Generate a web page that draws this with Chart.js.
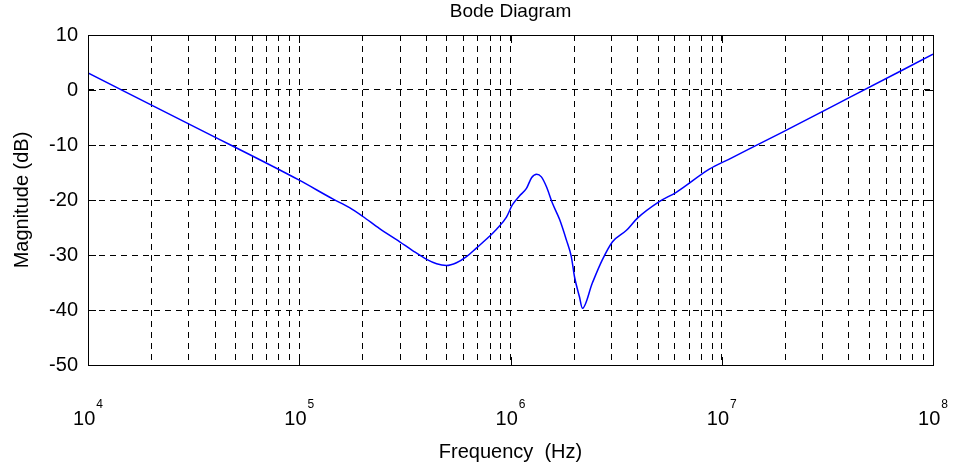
<!DOCTYPE html>
<html>
<head>
<meta charset="utf-8">
<script src="https://cdn.jsdelivr.net/npm/chart.js@4"></script>
<style>
  html, body { margin: 0; padding: 0; background: #fff; }
  #wrap { width: 957px; height: 475px; }
</style>
</head>
<body>
<div id="wrap"><canvas id="bodeChart" width="957" height="475"></canvas></div>
<script>
// values
const freqHz = [1.0e4, 3.39e4, 1.0e5, 1.44e5, 1.73e5, 2.0e5, 2.4e5, 2.99e5, 3.44e5, 4.01e5,
  4.47e5, 4.98e5, 5.55e5, 6.19e5, 6.91e5, 7.7e5, 8.59e5, 9.57e5, 1.02e6, 1.1e6,
  1.19e6, 1.26e6, 1.33e6, 1.4e6, 1.48e6, 1.58e6, 1.71e6, 1.84e6, 1.94e6, 2.01e6,
  2.12e6, 2.19e6, 2.44e6, 2.72e6, 3.04e6, 3.54e6, 3.99e6, 5.06e6, 6.09e6, 8.73e6,
  1.08e7, 1.93e7, 4.01e7, 1.0e8];
const magDb = [3.1, -7.2, -16.4, -19.8, -21.4, -23.0, -25.2, -27.6, -29.2, -30.8,
  -31.6, -31.9, -31.4, -30.3, -28.7, -27.1, -25.3, -23.1, -20.9, -19.3,
  -17.9, -15.9, -15.3, -15.8, -17.6, -20.6, -23.6, -27.3, -30.3, -34.0,
  -37.6, -39.7, -35.1, -30.9, -27.6, -25.5, -23.3, -20.3, -18.6, -14.4,
  -12.6, -7.7, -1.4, 6.5];

const decades = [1e4, 1e5, 1e6, 1e7, 1e8];
const decadeExp = ['4', '5', '6', '7', '8'];
const yTicks = [-50, -40, -30, -20, -10, 0, 10];

const fontFace = 'Arial, "Liberation Sans", sans-serif';

// x labels as 10 with a raised exponent
const expLabels = {
  id: 'expLabels',
  afterDraw(chart) {
    const ctx = chart.ctx;
    const xs = chart.scales.x;
    const base = chart.chartArea.bottom + 60;
    ctx.save();
    ctx.fillStyle = '#000';
    ctx.textBaseline = 'alphabetic';
    ctx.textAlign = 'left';
    decades.forEach((v, i) => {
      const px = xs.getPixelForValue(v);
      ctx.font = '20px ' + fontFace;
      const w1 = ctx.measureText('10').width;
      ctx.font = '12px ' + fontFace;
      const w2 = ctx.measureText(decadeExp[i]).width;
      const x0 = px - (w1 + 1 + w2) / 2;
      ctx.font = '20px ' + fontFace;
      ctx.fillText('10', x0, base);
      ctx.font = '12px ' + fontFace;
      ctx.fillText(decadeExp[i], x0 + w1 + 1, base - 17);
    });
    ctx.restore();
  }
};

// solid frame plus short inward ticks
const framePlugin = {
  id: 'frame',
  afterDraw(chart) {
    const ctx = chart.ctx;
    const a = chart.chartArea;
    const xs = chart.scales.x;
    const ys = chart.scales.y;
    ctx.save();
    ctx.strokeStyle = '#000';
    ctx.lineWidth = 1;
    ctx.setLineDash([]);
    ctx.strokeRect(Math.round(a.left) + 0.5, Math.round(a.top) + 0.5,
      Math.round(a.right - a.left), Math.round(a.bottom - a.top));
    ctx.beginPath();
    decades.forEach(v => {
      const px = Math.round(xs.getPixelForValue(v)) + 0.5;
      ctx.moveTo(px, a.bottom); ctx.lineTo(px, a.bottom - 8);
      ctx.moveTo(px, a.top); ctx.lineTo(px, a.top + 8);
    });
    yTicks.forEach(v => {
      const py = Math.round(ys.getPixelForValue(v)) + 0.5;
      ctx.moveTo(a.left, py); ctx.lineTo(a.left + 8, py);
      ctx.moveTo(a.right, py); ctx.lineTo(a.right - 8, py);
    });
    ctx.stroke();
    ctx.restore();
  }
};

const bodeChart = new Chart(document.getElementById('bodeChart').getContext('2d'), {
  type: 'line',
  data: {
    datasets: [{
      label: 'Magnitude',
      data: freqHz.map((f, i) => ({ x: f, y: magDb[i] })),
      borderColor: 'rgb(0, 0, 255)',
      borderWidth: 1.5,
      pointRadius: 0,
      fill: false,
      cubicInterpolationMode: 'monotone'
    }]
  },
  options: {
    responsive: false,
    animation: false,
    layout: { padding: { left: 0, right: 24, top: 0, bottom: 0 } },
    plugins: {
      legend: { display: false },
      tooltip: { enabled: false },
      title: {
        display: true,
        fullSize: false,
        text: 'Bode Diagram',
        color: '#000',
        font: { family: fontFace, size: 19, weight: 'normal', lineHeight: 1.2 },
        padding: { top: 0, bottom: 12.2 }
      }
    },
    scales: {
      x: {
        type: 'logarithmic',
        min: 1e4,
        max: 1e8,
        afterBuildTicks: scale => {
          const t = [];
          decades.forEach((d, i) => {
            if (i === decades.length - 1) { t.push({ value: d }); return; }
            for (let k = 1; k <= 9; k++) t.push({ value: d * k });
          });
          scale.ticks = t;
        },
        afterFit: scale => {
          scale.height = 110;
          scale.paddingLeft = 0;
          scale.paddingRight = 0;
        },
        ticks: {
          autoSkip: false,
          maxRotation: 0,
          callback: () => ''
        },
        grid: { color: '#000', lineWidth: 1, drawTicks: false },
        border: { display: false, dash: [6, 5] },
        title: {
          display: true,
          text: 'Frequency  (Hz)',
          color: '#000',
          font: { family: fontFace, size: 20, lineHeight: 1.2 },
          padding: { top: 0, bottom: 11 }
        }
      },
      y: {
        min: -50,
        max: 10,
        afterBuildTicks: scale => { scale.ticks = yTicks.map(v => ({ value: v })); },
        afterFit: scale => { scale.width = 88; },
        ticks: {
          padding: 10,
          color: '#000',
          font: { family: fontFace, size: 20 }
        },
        grid: { color: '#000', lineWidth: 1, drawTicks: false },
        border: { display: false, dash: [6, 5] },
        title: {
          display: true,
          text: 'Magnitude (dB)',
          color: '#000',
          font: { family: fontFace, size: 20, lineHeight: 1.2 },
          padding: { top: 10, bottom: 0 }
        }
      }
    }
  },
  plugins: [framePlugin, expLabels]
});
</script>
</body>
</html>
